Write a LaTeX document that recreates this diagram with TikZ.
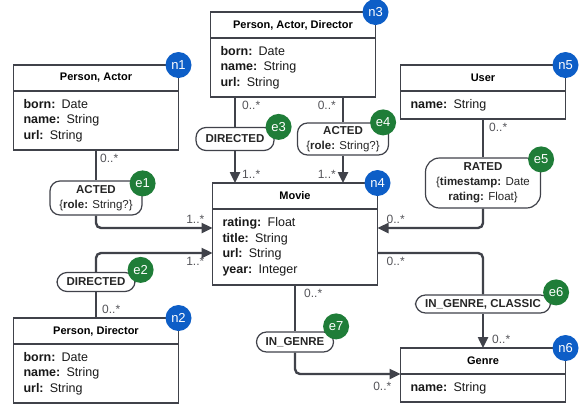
\documentclass[tikz,border=0pt]{standalone}
\usepackage{fontspec}
\setmainfont{Liberation Sans}
\usetikzlibrary{arrows.meta,calc,positioning}
\definecolor{NodeClr}{rgb}{0.05,0.37,0.78}
\definecolor{EdgeClr}{rgb}{0.12,0.49,0.22}
\definecolor{LineClr}{rgb}{0.25,0.26,0.29}
\definecolor{MultClr}{rgb}{0.33,0.33,0.35}

\tikzset{
  head/.style={draw=LineClr,line width=1.2pt,fill=white,outer sep=0pt,inner sep=0pt,
    minimum width=165pt,minimum height=26pt,font=\fontsize{11}{13}\selectfont\bfseries},
  body/.style={draw=LineClr,line width=1.2pt,fill=white,outer sep=0pt,inner ysep=0pt,inner xsep=10pt,
    text width=145pt,align=left,text=black!90,font=\fontsize{12.5}{15.5}\selectfont},
  pill/.style={draw=LineClr,line width=1.2pt,fill=white,rounded corners=10pt,inner sep=0pt,
    align=center,text=black!85,font=\fontsize{11.5}{15}\selectfont},
  ntag/.style={circle,fill=NodeClr,text=white,minimum size=26pt,inner sep=0pt,font=\fontsize{13}{13}\selectfont},
  etag/.style={circle,fill=EdgeClr,text=white,minimum size=26pt,inner sep=0pt,font=\fontsize{13}{13}\selectfont},
  rel/.style={draw=LineClr,line width=2.4pt,rounded corners=5pt},
  arr/.style={-{Triangle[length=11pt,width=10pt]}},
  mult/.style={text=MultClr,inner sep=3pt,font=\fontsize{12}{12}\selectfont}
}

\begin{document}
\begin{tikzpicture}[x=1pt,y=-1pt]
\useasboundingbox (0,0) rectangle (584,408);

\node[head] (n1) at (96,78) {Person, Actor};
\node[body,minimum height=59pt,below=0pt of n1] (n1b) {\textbf{born:} Date\\\textbf{name:} String\\\textbf{url:} String};

\node[head] (n2) at (96,331) {Person, Director};
\node[body,minimum height=59pt,below=0pt of n2] (n2b) {\textbf{born:} Date\\\textbf{name:} String\\\textbf{url:} String};

\node[head] (n3) at (293,25) {Person, Actor, Director};
\node[body,minimum height=59pt,below=0pt of n3] (n3b) {\textbf{born:} Date\\\textbf{name:} String\\\textbf{url:} String};

\node[head] (n4) at (295,196) {Movie};
\node[body,minimum height=76pt,below=0pt of n4] (n4b) {\textbf{rating:} Float\\\textbf{title:} String\\\textbf{url:} String\\\textbf{year:} Integer};

\node[head] (n5) at (483,78) {User};
\node[body,minimum height=28pt,below=0pt of n5] (n5b) {\textbf{name:} String};

\node[head] (n6) at (483,361) {Genre};
\node[body,minimum height=28pt,below=0pt of n6] (n6b) {\textbf{name:} String};

\node[pill,minimum width=92pt,minimum height=34pt] (e1) at (96,198) {\textbf{ACTED}\\\{\textbf{role:} String?\}};
\node[pill,minimum width=78pt,minimum height=19pt] (e2) at (96,282) {\textbf{DIRECTED}};
\node[pill,minimum width=78pt,minimum height=23pt] (e3) at (235,139) {\textbf{DIRECTED}};
\node[pill,minimum width=91pt,minimum height=32pt] (e4) at (343,139) {\textbf{ACTED}\\\{\textbf{role:} String?\}};
\node[pill,minimum width=115pt,minimum height=50pt,rounded corners=14pt] (e5) at (483,183) {\textbf{RATED}\\\{\textbf{timestamp:} Date\\\textbf{rating:} Float\}};
\node[pill,minimum width=135pt,minimum height=18pt] (e6) at (483,304) {\textbf{IN\_GENRE, CLASSIC}};
\node[pill,minimum width=77pt,minimum height=20pt] (e7) at (295,342) {\textbf{IN\_GENRE}};

\draw[rel] (n1b.south) -- node[mult,pos=0,anchor=north west]{0..*} (e1);
\draw[rel,arr] (e1) |- node[mult,pos=1,anchor=south east,xshift=-4pt]{1..*} ([yshift=19pt]n4b.west);

\draw[rel] (n2.north) -- node[mult,pos=0,anchor=south west,xshift=2pt]{0..*} (e2);
\draw[rel,arr] (e2) |- node[mult,pos=1,anchor=north east,xshift=-4pt]{1..*} ([yshift=-6pt]n4b.west);

\draw[rel] (n3b.south -| e3) -- node[mult,pos=0,anchor=north west,xshift=3pt]{0..*} (e3);
\draw[rel,arr] (e3) -- node[mult,pos=1,anchor=south west,xshift=3pt]{1..*} (e3 |- n4.north);

\draw[rel] (n3b.south -| e4) -- node[mult,pos=0,anchor=north east,xshift=-3pt]{0..*} (e4);
\draw[rel,arr] (e4) -- node[mult,pos=1,anchor=south east,xshift=-3pt]{1..*} (e4 |- n4.north);

\draw[rel] (n5b.south) -- node[mult,pos=0,anchor=north west,xshift=2pt]{0..*} (e5);
\draw[rel,arr] (e5) |- node[mult,pos=1,anchor=south west,xshift=5pt]{0..*} ([yshift=19pt]n4b.east);

\draw[rel] ([yshift=-6pt]n4b.east) -| node[mult,pos=0,anchor=north west,xshift=5pt]{0..*} (e6);
\draw[rel,arr] (e6) -- node[mult,pos=1,anchor=south west,xshift=5pt]{0..*} (n6.north);

\draw[rel] (n4b.south) -- node[mult,pos=0,anchor=north west,xshift=5pt]{0..*} (e7);
\draw[rel,arr] (e7) |- node[mult,pos=1,anchor=north east,xshift=-5pt,yshift=-4pt]{0..*} (n6.south west);

\node[ntag] (t1) at (n1.north east) {n1};
\node[ntag] (t2) at (n2.north east) {n2};
\node[ntag] (t3) at (n3.north east) {n3};
\node[ntag] (t4) at (n4.north east) {n4};
\node[ntag] (t5) at (n5.north east) {n5};
\node[ntag] (t6) at (n6.north east) {n6};

\node[etag] (s1) at ([yshift=-3pt]e1.north east) {e1};
\node[etag] (s2) at ([xshift=5pt,yshift=2pt]e2.north east) {e2};
\node[etag] (s3) at ([xshift=4pt]e3.north east) {e3};
\node[etag] (s4) at ([xshift=-6pt]e4.north east) {e4};
\node[etag] (s5) at ([yshift=-2pt]e5.north east) {e5};
\node[etag] (s6) at ([xshift=5pt,yshift=2pt]e6.north east) {e6};
\node[etag] (s7) at ([xshift=2pt,yshift=5pt]e7.north east) {e7};

\end{tikzpicture}
\end{document}
